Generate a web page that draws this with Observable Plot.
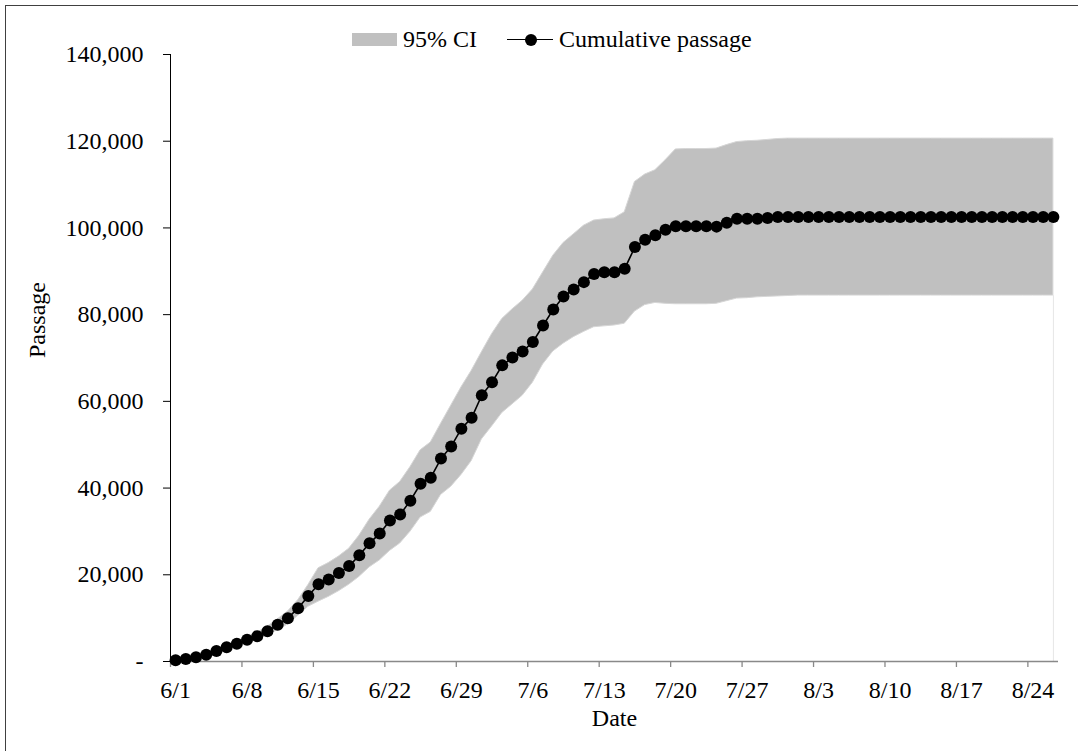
<!DOCTYPE html>
<html>
<head>
<meta charset="utf-8">
<script src="https://cdn.jsdelivr.net/npm/d3@7"></script>
<script src="https://cdn.jsdelivr.net/npm/@observablehq/plot@0.6"></script>
<style>
html, body { margin: 0; padding: 0; background: #fff; overflow: hidden; }
#wrap { position: relative; width: 1078px; height: 751px; font-family: "Liberation Serif", "Times New Roman", serif; color: #000; }
#chart { position: absolute; left: 0; top: 0; }
#frame { position: absolute; left: 5px; top: 5px; width: 1100px; height: 800px; border: 1px solid #404040; pointer-events: none; }
.lg { position: absolute; font-size: 24px; line-height: 24px; white-space: nowrap; }
</style>
</head>
<body>
<div id="wrap">
  <div id="chart"></div>
  <div id="legend">
    <div style="position:absolute;left:352px;top:33px;width:45px;height:13px;background:#c0c0c0"></div>
    <div class="lg" style="left:403px;top:27px">95% CI</div>
    <div style="position:absolute;left:507px;top:38.8px;width:46px;height:1.5px;background:#000"></div>
    <div style="position:absolute;left:525px;top:33.5px;width:12px;height:12px;border-radius:50%;background:#000"></div>
    <div class="lg" style="left:559px;top:27px">Cumulative passage</div>
  </div>
  <div id="frame"></div>
</div>
<script>
// ---- data ----
const startDate = "2019-06-01";
const passage = [
  300, 600, 1000, 1550, 2400, 3300, 4100, 5000, 5850, 7000,
  8450, 10000, 12300, 15100, 17800, 18900, 20400, 22000, 24500, 27300,
  29500, 32500, 33900, 37100, 41000, 42400, 46800, 49600, 53700, 56200,
  61400, 64400, 68300, 70100, 71500, 73700, 77500, 81200, 84200, 85800,
  87500, 89400, 89800, 89800, 90600, 95600, 97300, 98300, 99600, 100400,
  100400, 100400, 100400, 100300, 101200, 102100, 102100, 102100, 102300, 102500,
  102500, 102500, 102500, 102500, 102500, 102500, 102500, 102500, 102500, 102500,
  102500, 102500, 102500, 102500, 102500, 102500, 102500, 102500, 102500, 102500,
  102500, 102500, 102500, 102500, 102500, 102500, 102500
];
const lower = [
  200, 500, 850, 1300, 2050, 2850, 3550, 4350, 5050, 6000,
  7200, 8500, 10500, 12600, 13800, 14900, 16200, 17700, 19500, 21700,
  23300, 25500, 27200, 29900, 33200, 34500, 38400, 40300, 43000, 46200,
  51200, 54200, 57300, 59300, 61300, 64300, 68500, 71500, 73300, 74800,
  76000, 77100, 77300, 77500, 77900, 80700, 82200, 82700, 82500, 82400,
  82400, 82400, 82400, 82500, 83100, 83700, 83800, 84000, 84100, 84200,
  84300, 84400, 84400, 84400, 84400, 84400, 84400, 84400, 84400, 84400,
  84400, 84400, 84400, 84400, 84400, 84400, 84400, 84400, 84400, 84400,
  84400, 84400, 84400, 84400, 84400, 84400, 84400
];
const upper = [
  400, 700, 1150, 1800, 2750, 3750, 4650, 5650, 6650, 8000,
  9700, 11500, 14100, 17600, 21500, 22700, 24200, 26000, 29000, 32700,
  35700, 39400, 41400, 44800, 48700, 50500, 54800, 59000, 63200, 67000,
  71300, 75500, 79000, 81200, 83200, 85800, 89700, 93600, 96500, 98500,
  100500, 101700, 102000, 102200, 103600, 110600, 112300, 113300, 115600, 118100,
  118200, 118200, 118200, 118300, 119100, 119800, 120000, 120100, 120300, 120500,
  120600, 120600, 120600, 120600, 120600, 120600, 120600, 120600, 120600, 120600,
  120600, 120600, 120600, 120600, 120600, 120600, 120600, 120600, 120600, 120600,
  120600, 120600, 120600, 120600, 120600, 120600, 120600
];
const xTickLabels = ["6/1", "6/8", "6/15", "6/22", "6/29", "7/6", "7/13", "7/20", "7/27", "8/3", "8/10", "8/17", "8/24"];
const yTicks = [0, 20000, 40000, 60000, 80000, 100000, 120000, 140000];
const xTitle = "Date";
const yTitle = "Passage";

// ---- build ----
const start = new Date(startDate + "T00:00:00Z");
const year = start.getUTCFullYear();
const rows = passage.map((v, i) => ({
  date: d3.utcHour.offset(d3.utcDay.offset(start, i), 12),
  passage: v, lower: lower[i], upper: upper[i]
}));
const tickDates = xTickLabels.map(s => {
  const [m, d] = s.split("/").map(Number);
  return new Date(Date.UTC(year, m - 1, d));
});
const labelOf = new Map(tickDates.map((d, i) => [+d, xTickLabels[i]]));
const xEnd = d3.utcDay.offset(start, passage.length);

const W = 1078, H = 751, mL = 170, mR = 20, mT = 54, mB = 90;
const halfDay = (W - mL - mR) / passage.length / 2;
const yFmt = v => v === 0 ? "-" : d3.format(",")(v);

const chart = Plot.plot({
  width: W, height: H,
  marginLeft: mL, marginRight: mR, marginTop: mT, marginBottom: mB,
  style: { fontFamily: "'Liberation Serif', 'Times New Roman', serif", fontSize: "24px", color: "#000", background: "transparent", overflow: "visible" },
  x: { type: "utc", domain: [start, xEnd] },
  y: { domain: [0, d3.max(yTicks)] },
  marks: [
    Plot.areaY(rows, { x: "date", y1: "lower", y2: "upper", fill: "#c0c0c0", stroke: "#d6d6d6", strokeWidth: 1 }),
    Plot.ruleX(rows.slice(-1), { x: "date", y1: 0, y2: "lower", stroke: "#e6e6e6" }),
    Plot.ruleY([0], { stroke: "#898989", strokeWidth: 1.3 }),
    Plot.axisX({ ticks: tickDates, tickSize: 6, stroke: "#898989", strokeWidth: 1.3, tickFormat: () => "" }),
    Plot.axisX({ ticks: tickDates, tickSize: 0, tickPadding: 19, dx: halfDay, tickFormat: d => labelOf.get(+d) }),
    Plot.line(rows, { x: "date", y: "passage", stroke: "#000", strokeWidth: 1.6 }),
    Plot.dot(rows, { x: "date", y: "passage", r: 6, fill: "#000", stroke: "none" }),
    Plot.ruleX([start], { y1: 0, y2: d3.max(yTicks), stroke: "#000", strokeWidth: 1 }),
    Plot.axisY({ ticks: yTicks, tickSize: 7, tickPadding: 20, tickFormat: yFmt, label: null }),
    Plot.text([yTitle], { frameAnchor: "left", rotate: -90, dx: -133, fill: "#000" }),
    Plot.text([xTitle], { frameAnchor: "bottom", dy: 64, fill: "#000" })
  ]
});
document.getElementById("chart").appendChild(chart);
</script>
</body>
</html>
